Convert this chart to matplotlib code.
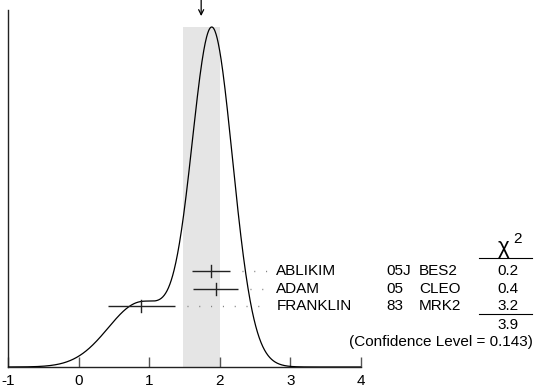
import numpy as np
import matplotlib
matplotlib.use('Agg')
import matplotlib.pyplot as plt
from matplotlib import transforms

plt.rcParams['font.family'] = ['Liberation Sans', 'DejaVu Sans']

# ---- data ----
authors = ['ABLIKIM', 'ADAM', 'FRANKLIN']
years = ['05J', '05', '83']
experiments = ['BES2', 'CLEO', 'MRK2']
values = [1.87, 1.94, 0.89]
errors = [0.27, 0.32, 0.47]
chi2_labels = ['0.2', '0.4', '3.2']
chi2_total = '3.9'
cl_text = '(Confidence Level = 0.143)'
xticks = [-1, 0, 1, 2, 3, 4]
xtick_labels = ['-1', '0', '1', '2', '3', '4']

# ---- derived quantities (PDG-style average and ideogram) ----
v = np.array(values)
e = np.array(errors)
w = 1.0 / e**2
mean = np.sum(w * v) / np.sum(w)
err = 1.0 / np.sqrt(np.sum(w))
chi2 = np.sum(((v - mean) / e) ** 2)
S = np.sqrt(chi2 / (len(v) - 1))
serr = err * S

xs = np.linspace(-1, 4, 1000)
ideo = np.zeros_like(xs)
for vi, ei in zip(v, e):
    ideo += (1.0 / ei**2) * np.exp(-0.5 * ((xs - vi) / ei) ** 2)
ideo /= ideo.max()

# ---- figure ----
fig = plt.figure(figsize=(5.34, 3.90), dpi=100)
ax = fig.add_axes([8 / 534, 23 / 390, 353 / 534, 357 / 390])
ax.set_xlim(-1, 4)
ax.set_ylim(0, 1.05)

# shaded band
ax.fill_between([mean - serr, mean + serr], 0, 1.0, color='#e5e5e5', lw=0, zorder=0)

# ideogram curve
ax.plot(xs, ideo, color='black', lw=0.9, zorder=3)

# arrow at mean
ax.annotate('', xy=(mean, 0.983), xytext=(mean, 1.035),
            xycoords=transforms.blended_transform_factory(ax.transData, ax.transAxes),
            textcoords=transforms.blended_transform_factory(ax.transData, ax.transAxes),
            arrowprops=dict(arrowstyle='->', color='black', lw=0.9,
                            shrinkA=0, shrinkB=0, mutation_scale=9),
            annotation_clip=False)

# measurement rows
px = 1 / 70.6  # data units per pixel
rows_y = [0.282, 0.229, 0.180]
tick_h = 0.018
x_name = 2.80
x_year = 4.36
x_exp = 4.82
x_chi = 6.08
for i in range(len(values)):
    y = rows_y[i]
    ax.plot([values[i] - errors[i], values[i] + errors[i]], [y, y],
            color='#222222', lw=1.0, zorder=4, solid_capstyle='butt')
    ax.plot([values[i], values[i]], [y - tick_h, y + tick_h],
            color='#222222', lw=1.0, zorder=4)
    start = values[i] + errors[i] + 12 * px
    ax.plot([start, x_name - 8 * px], [y, y], color='#777777', lw=1.0,
            ls=(0, (0.7, 7.8)), zorder=2, clip_on=False)
    ax.text(x_name, y, authors[i], ha='left', va='center', fontsize=11, clip_on=False)
    ax.text(x_year, y, years[i], ha='left', va='center', fontsize=11, clip_on=False)
    ax.text(x_exp, y, experiments[i], ha='left', va='center', fontsize=11, clip_on=False)
    ax.text(x_chi, y, chi2_labels[i], ha='center', va='center', fontsize=11, clip_on=False)

# chi2 header and lines
ax.text(x_chi - 0.06, 0.335, 'χ', ha='center', va='baseline', fontsize=16, clip_on=False)
ax.text(x_chi + 0.07, 0.365, '2', ha='left', va='baseline', fontsize=11, clip_on=False)
ax.plot([5.67, 6.42], [0.321, 0.321], color='black', lw=0.8, clip_on=False)
ax.plot([5.67, 6.42], [0.155, 0.155], color='black', lw=0.8, clip_on=False)
ax.text(x_chi, 0.124, chi2_total, ha='center', va='center', fontsize=11, clip_on=False)
ax.text(6.43, 0.073, cl_text, ha='right', va='center', fontsize=11, clip_on=False)

# axes styling
for s in ['top', 'right']:
    ax.spines[s].set_visible(False)
for s in ['left', 'bottom']:
    ax.spines[s].set_color('#222222')
    ax.spines[s].set_linewidth(1.0)
ax.set_yticks([])
ax.set_xticks(xticks)
ax.set_xticklabels(xtick_labels, fontsize=11)
ax.tick_params(axis='x', direction='in', length=7.5, width=1.0, color='#555555', pad=5)

fig.savefig('out.png', dpi=100)
